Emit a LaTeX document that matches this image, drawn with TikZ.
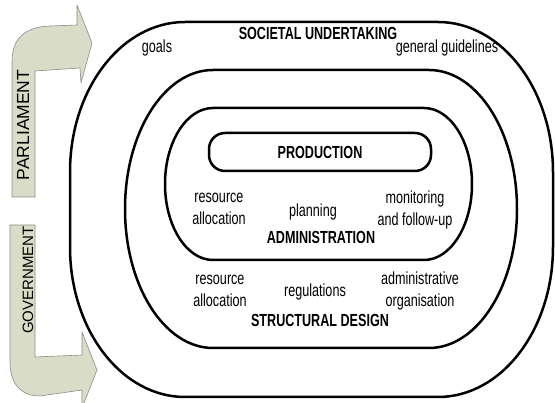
\documentclass[tikz,border=0pt]{standalone}
\usepackage{fontspec}
\setmainfont{Liberation Sans}[FakeStretch=0.72]
\newfontfamily\armfont{Liberation Sans}
\definecolor{armfill}{HTML}{D9DCC6}
\definecolor{armline}{HTML}{8C8C8C}
\tikzset{
  ring/.style={draw,line width=2.5pt},
  txt/.style={inner sep=0pt,align=center,font=\fontsize{17.5}{22}\selectfont},
  title/.style={txt,font=\fontsize{17.5}{22}\selectfont\bfseries},
  arm/.style={draw=armline,fill=armfill,line width=0.6pt,line join=round},
  armtxt/.style={inner sep=0pt,rotate=90,font=\armfont\fontsize{15}{18}\selectfont}
}
\begin{document}
\begin{tikzpicture}[x=1pt,y=-1pt]
\useasboundingbox (0,0) rectangle (555,403);
% outer ring
\draw[ring] (185,22) -- (438,22) arc[start angle=-90,end angle=0,x radius=115,y radius=150]
  -- (553,247) arc[start angle=0,end angle=90,x radius=115,y radius=150]
  -- (185,397) arc[start angle=90,end angle=180,x radius=115,y radius=150]
  -- (70,172) arc[start angle=180,end angle=270,x radius=115,y radius=150] -- cycle;
%
\node[title] (soc) at (318,33) {SOCIETAL UNDERTAKING};
\node[txt] (goals) at (157,48) {goals};
\node[txt] (guide) at (447,48) {general guidelines};
%
% middle ring
\draw[ring] (213,70) -- (429,70) arc[start angle=-90,end angle=90,x radius=88,y radius=139]
  -- (213,348) arc[start angle=90,end angle=270,x radius=88,y radius=139] -- cycle;
%
\node[txt] (salloc) at (220,291) {resource\\allocation};
\node[txt] (regs) at (315,292) {regulations};
\node[txt] (aorg) at (420,291) {administrative\\organisation};
\node[title] (struct) at (320,320) {STRUCTURAL DESIGN};
%
% inner ring
\draw[ring] (213,108) -- (424,108) arc[start angle=-90,end angle=90,x radius=48,y radius=76]
  -- (213,260) arc[start angle=90,end angle=270,x radius=48,y radius=76] -- cycle;
%
\node[txt] (aalloc) at (219,209) {resource\\allocation};
\node[txt] (plan) at (313,212) {planning};
\node[txt] (mon) at (415,210) {monitoring\\and follow-up};
\node[title] (admin) at (321,237) {ADMINISTRATION};
%
\node[title,draw,line width=2.5pt,rounded corners=16pt,minimum width=222pt,minimum height=38pt] (prod) at (320,152) {PRODUCTION};
%
% bent arrows on the left
\draw[arm] (12,197) -- (12,62) .. controls (12,38) and (25,27) .. (50,26) -- (77,25)
  -- (77,5) -- (92,43) -- (81,83) -- (80,68) -- (35,71) -- (35,197) -- cycle;
\node[armtxt,font=\armfont\fontsize{17.5}{18}\selectfont] (parl) at (23,125) {PARLIAMENT};
%
\draw[arm] (10,225) -- (35,225) -- (35,357) -- (82,355) -- (82,332) -- (97,370)
  -- (82,408) -- (82,390) -- (40,396) .. controls (22,396) and (10,385) .. (10,362) -- cycle;
\node[armtxt] (gov) at (28,280) {GOVERNMENT};
\end{tikzpicture}
\end{document}
